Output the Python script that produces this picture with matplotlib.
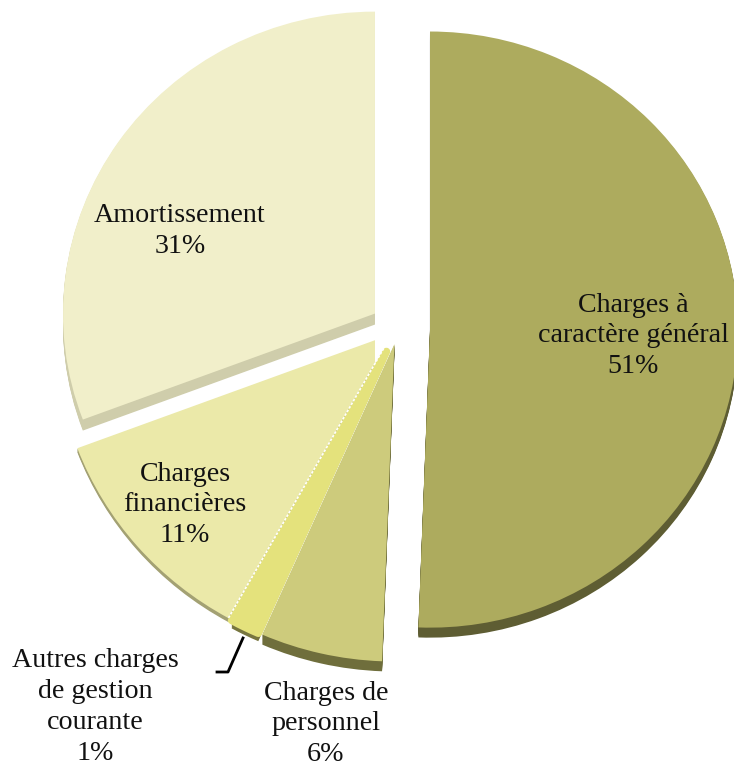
import math

import matplotlib
matplotlib.use("Agg")
import matplotlib.pyplot as plt
from matplotlib.transforms import Bbox

# clockwise from 12 o'clock
categories = ["Charges à\ncaractère général", "Charges de\npersonnel",
              "Autres charges\nde gestion\ncourante", "Charges\nfinancières",
              "Amortissement"]
values = [50.6, 6.0, 1.49, 11.2, 30.71]

top_colors = ["#adab5e", "#cdcb7c", "#e4e27c", "#ebe9a9", "#f1efca"]
side_colors = ["#5e5d33", "#6f6e3c", "#77763f", "#a3a173", "#cfcdab"]
explode_px = [32, 16, 26, 8, 28]
radius_px = [308, 328, 318, 336, 312]
depth_px = [10, 10, 8, 4, 11]
label_pos = [(633, 336), (326, 724), (95, 707), (185, 505), (180, 231)]

W, H = 734, 767
CX, CY = 398, 329  # pie centre, pixels from top left
RX, RY = 310, 300
FIN_CLIP_X = 375  # financieres slice is cut off here in the original


def px(x, y):
    return x / W, 1 - y / H


def draw_pie(colors, drop=0):
    wedges, _ = ax.pie(values, colors=colors, explode=explode_px, startangle=90,
                       counterclock=False, radius=RX,
                       center=(0, -drop * RX / RY), frame=True)
    for w, r in zip(wedges, radius_px):
        w.set_radius(r)
    wedges[3].set_clip_on(True)  # pie turns clipping off
    wedges[3].set_clip_box(Bbox([[0, 0], [FIN_CLIP_X, H]]))
    return wedges


fig = plt.figure(figsize=(W / 100, H / 100), dpi=100)
ax = fig.add_axes([0, 0, 1, 1])

# side walls: stacked copies of the pie going down
for d in range(max(depth_px), 0, -1):
    for w, depth in zip(draw_pie(side_colors, d), depth_px):
        w.set_visible(d <= depth)

wedges = draw_pie(top_colors)
for w in wedges:
    w.set_zorder(2)
# the thin slice is fattened a bit so that it closes on the personnel slice
wedges[2].set(zorder=1.5, edgecolor=top_colors[2], linewidth=5.5, joinstyle="round")

ax.set_aspect("auto")
ax.set_xlim(-CX, W - CX)
ax.set_ylim(-(H - CY) * RX / RY, CY * RX / RY)
ax.axis("off")

# white dotted seam between financieres and autres charges
fin = wedges[3]
a = math.radians(fin.theta2)
seam, = ax.plot([fin.center[0], fin.center[0] + fin.r * math.cos(a)],
                [fin.center[1], fin.center[1] + fin.r * math.sin(a)],
                color="white", lw=1.2, ls=(0, (1.5, 1)), zorder=3)

# leader line for the smallest slice
fig.add_artist(plt.Line2D(*zip(px(243, 638), px(228, 672), px(217, 672)),
                          color="black", lw=2, transform=fig.transFigure))

for name, v, (x, y) in zip(categories, values, label_pos):
    fig.text(*px(x, y), f"{name}\n{round(v)}%", ha="center", va="center",
             family="Liberation Serif", fontsize=20.2, color="#111111",
             linespacing=1.3)

fig.savefig("out.png", dpi=100)
